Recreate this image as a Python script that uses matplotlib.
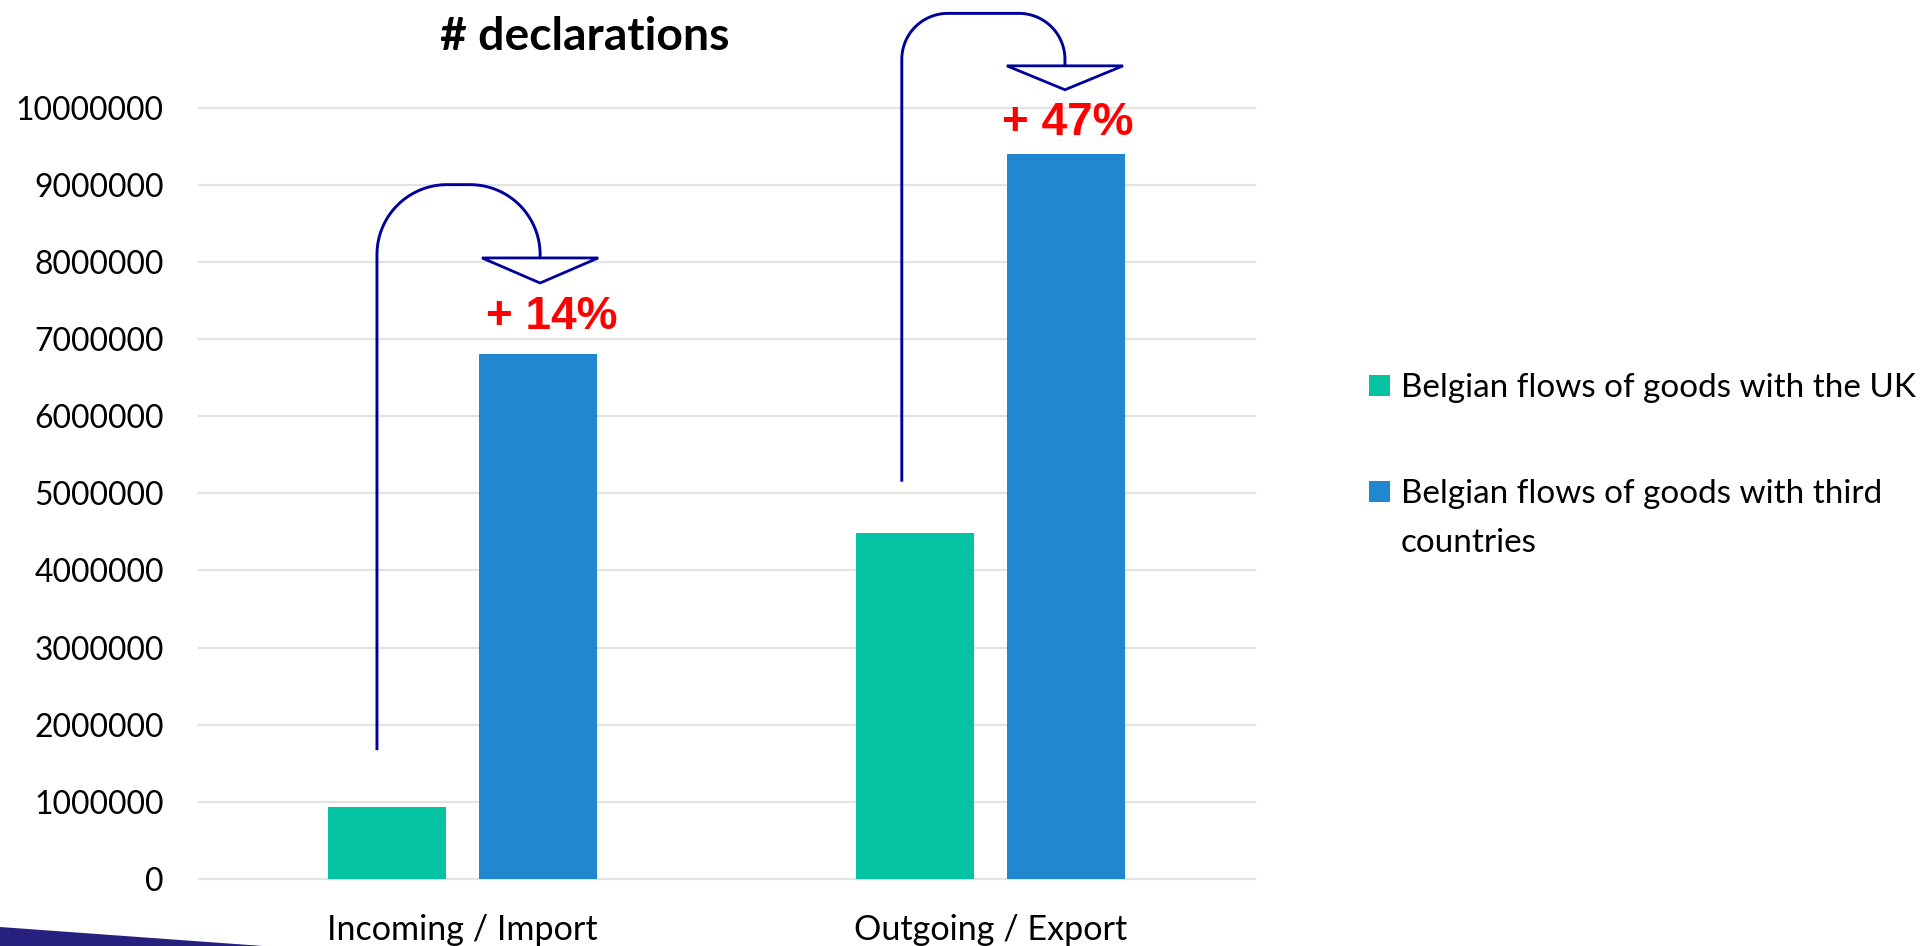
import matplotlib
matplotlib.use("Agg")
import matplotlib.pyplot as plt
from matplotlib.patches import Polygon, Rectangle
import numpy as np

# ---------------- data ----------------
categories = ["Incoming / Import", "Outgoing / Export"]
series_labels = ["Belgian flows of goods with the UK",
                 "Belgian flows of goods with third\ncountries"]
uk_values = [930000, 4485000]
third_values = [6800000, 9400000]
growth_labels = ["+ 14%", "+ 47%"]
y_ticks = [0, 1000000, 2000000, 3000000, 4000000, 5000000,
           6000000, 7000000, 8000000, 9000000, 10000000]
title_text = "# declarations"

# ---------------- style ----------------
GREEN = "#04C3A2"
BLUE = "#2188CF"
NAVY = "#00009A"
RED = "#FF0000"
GRID = "#E3E3E3"
FONT = "Lato"

W, H = 1929, 946
fig = plt.figure(figsize=(W / 100, H / 100), dpi=100)
renderer = fig.canvas.get_renderer()


def fit_size(text, target_px, weight="normal", family=FONT, base=20):
    t = fig.text(0, 0, text, fontsize=base, family=family, weight=weight)
    w = t.get_window_extent(renderer).width
    t.remove()
    return base * target_px / w


tick_fs = fit_size("10000000", 148)
cat_fs = fit_size(categories[0], 271)
leg_fs = fit_size(series_labels[0], 515)
title_fs = fit_size(title_text, 289, weight="bold")

ax_left, ax_right, ax_top, ax_bottom = 198.5, 1254.5, 107.5, 879
ax = fig.add_axes([ax_left / W, 1 - ax_bottom / H,
                   (ax_right - ax_left) / W, (ax_bottom - ax_top) / H])

x = np.arange(len(categories))
off, bw = 0.1425, 0.224
ax.bar(x - off, uk_values, bw, color=GREEN, zorder=2, label=series_labels[0])
ax.bar(x + off, third_values, bw, color=BLUE, zorder=2, label=series_labels[1])

ax.set_xlim(-0.5, 1.5)
ax.set_ylim(0, 10000000)
ax.set_yticks(y_ticks)
ax.set_yticklabels([str(v) for v in y_ticks], family=FONT, fontsize=tick_fs)
ax.set_xticks(x)
ax.set_xticklabels(categories, family=FONT, fontsize=cat_fs)
ax.tick_params(axis="both", length=0, pad=25, colors="black")
for s in ax.spines.values():
    s.set_visible(False)
ax.grid(axis="y", color=GRID, lw=1.6, zorder=0)
ax.set_axisbelow(True)
for gl in ax.get_ygridlines():
    gl.set_clip_on(False)

# ---------------- curved arrows ----------------
sx = ax.bbox.width / 2.0          # px per x data unit
sy = ax.bbox.height / 10000000.0  # px per y data unit

brackets = [
    # cat, x_start, x_end, y_bottom, y_top, y_head, y_apex, head_halfwidth, radius_px
    (0, -0.162, 0.147, 1670000, 9000000, 8050000, 7725000, 0.110, 70),
    (1, -0.168, 0.141, 5150000, 11220000, 10540000, 10230000, 0.110, 46),
]
for cat, xs, xe, yb, yt, yh, ya, hw, r in brackets:
    xs += cat
    xe += cat
    rx, ry = r / sx, r / sy
    t1 = np.linspace(np.pi, np.pi / 2, 40)
    t2 = np.linspace(np.pi / 2, 0, 40)
    px = [xs, xs] + list(xs + rx + rx * np.cos(t1)) + list(xe - rx + rx * np.cos(t2)) + [xe, xe]
    py = [yb, yt - ry] + list(yt - ry + ry * np.sin(t1)) + list(yt - ry + ry * np.sin(t2)) + [yt - ry, yh]
    ax.plot(px, py, color=NAVY, lw=2.1, clip_on=False, zorder=4,
            solid_capstyle="butt", solid_joinstyle="round")
    tri = Polygon([[xe - hw, yh], [xe + hw, yh], [xe, ya]], closed=True,
                  facecolor="white", edgecolor=NAVY, lw=2.0, clip_on=False,
                  zorder=5, joinstyle="miter")
    ax.add_patch(tri)

# growth labels
growth_pos = [(0 + 0.1695, 7129000), (1 + 0.1458, 9643000)]
for (gx, gy), lab in zip(growth_pos, growth_labels):
    ax.text(gx, gy, lab, color=RED, fontsize=33, weight="bold",
            family="Liberation Sans", ha="center", va="baseline",
            clip_on=False, zorder=6)

# title
fig.text(584.5 / W, 1 - 50 / H, title_text, family=FONT, weight="bold",
         fontsize=title_fs, ha="center", va="baseline")

# legend (Excel-style: marker beside the first line of each entry)
leg_colors = [GREEN, BLUE]
leg_baselines = [397, 503]
line_gap = 49
for col, base, lab in zip(leg_colors, leg_baselines, series_labels):
    fig.patches.append(Rectangle((1369 / W, 1 - (base - 1) / H), 21 / W, 21 / H,
                                 transform=fig.transFigure, facecolor=col,
                                 edgecolor="none"))
    for i, line in enumerate(lab.split("\n")):
        fig.text(1401 / W, 1 - (base + i * line_gap) / H, line, family=FONT,
                 fontsize=leg_fs, ha="left", va="baseline")

# decorative corner wedge
fig.patches.append(Polygon([[0, 1 - 927 / H], [263 / W, 0], [0, 0]], closed=True,
                           transform=fig.transFigure, facecolor="#26207F",
                           edgecolor="none"))

fig.savefig("out.png", dpi=100)
